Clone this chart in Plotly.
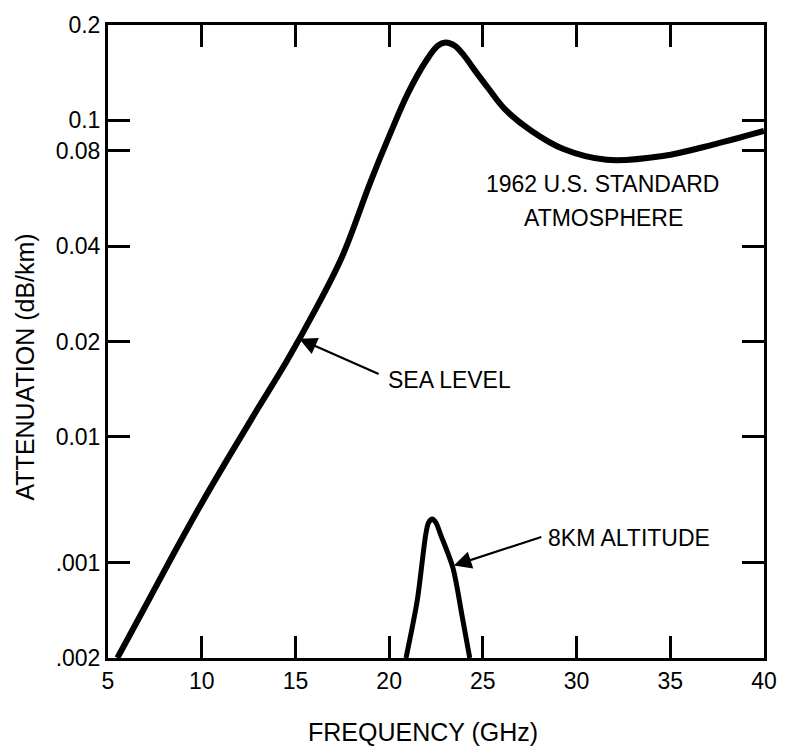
import math
import plotly.graph_objects as go

# Sea-level curve (frequency GHz, attenuation dB/km)
sea_freq = [5.5, 7.0, 8.5, 10.0, 11.5, 13.0, 14.5, 16.0, 17.5, 19.0, 20.0, 21.0,
            22.0, 22.6, 23.0, 23.5, 24.0, 24.6, 25.3, 26.2, 27.6, 29.3, 31.6, 34.6,
            37.4, 40.0]
sea_att = [0.0020, 0.00292, 0.00427, 0.00617, 0.00875, 0.0123, 0.0172, 0.0248, 0.0372,
           0.0638, 0.0891, 0.1216, 0.155, 0.172, 0.176, 0.172, 0.160, 0.143, 0.126,
           0.108, 0.0925, 0.0811, 0.0750, 0.0771, 0.0841, 0.0925]

# 8 km altitude curve
alt_freq = [20.9, 21.5, 21.95, 22.1, 22.3, 22.5, 22.75, 23.4, 23.9, 24.3]
alt_att = [0.002, 0.00304, 0.0049, 0.00535, 0.0055, 0.00535, 0.0049, 0.00386, 0.0027, 0.002]

x_ticks = [5, 10, 15, 20, 25, 30, 35, 40]
y_tickvals = [0.002, 0.004, 0.01, 0.02, 0.04, 0.08, 0.1, 0.2]
y_ticktext = [".002", ".001", "0.01", "0.02", "0.04", "0.08", "0.1", "0.2"]

FONT = "Liberation Sans, Arial, Helvetica, sans-serif"

fig = go.Figure()
fig.add_trace(go.Scatter(x=sea_freq, y=sea_att, mode="lines",
                         line=dict(color="black", width=6, shape="spline", smoothing=1.0),
                         showlegend=False, hoverinfo="skip"))
fig.add_trace(go.Scatter(x=alt_freq, y=alt_att, mode="lines",
                         line=dict(color="black", width=5, shape="spline", smoothing=0.8),
                         showlegend=False, hoverinfo="skip"))

L = math.log10
annotations = [
    # arrows
    dict(x=15.2, y=L(0.0204), xref="x", yref="y", text="", showarrow=True,
         ax=81, ay=36, arrowhead=2, arrowsize=1.6, arrowwidth=2.2, arrowcolor="black"),
    dict(x=23.45, y=L(0.00392), xref="x", yref="y", text="", showarrow=True,
         ax=89, ay=-29, arrowhead=2, arrowsize=1.6, arrowwidth=2.2, arrowcolor="black"),
    # labels
    dict(x=19.84, y=L(0.0151), xref="x", yref="y", text="SEA LEVEL", showarrow=False,
         xanchor="left", yanchor="middle", font=dict(size=23, color="black", family=FONT)),
    dict(x=28.37, y=L(0.00479), xref="x", yref="y", text="8KM ALTITUDE", showarrow=False,
         xanchor="left", yanchor="middle", font=dict(size=23, color="black", family=FONT)),
    dict(x=31.37, y=L(0.0629), xref="x", yref="y", text="1962 U.S. STANDARD", showarrow=False,
         xanchor="center", yanchor="middle", font=dict(size=23, color="black", family=FONT)),
    dict(x=31.42, y=L(0.049), xref="x", yref="y", text="ATMOSPHERE", showarrow=False,
         xanchor="center", yanchor="middle", font=dict(size=23, color="black", family=FONT)),
    # axis titles
    dict(x=0.480, y=-0.1176, xref="paper", yref="paper", text="FREQUENCY (GHz)",
         showarrow=False, xanchor="center", yanchor="middle",
         font=dict(size=25, color="black", family=FONT)),
    dict(x=-0.1265, y=0.459, xref="paper", yref="paper", text="ATTENUATION (dB/km)",
         showarrow=False, xanchor="center", yanchor="middle", textangle=-90,
         font=dict(size=25, color="black", family=FONT)),
]

fig.update_layout(
    width=789, height=749,
    margin=dict(l=108, r=17, t=20, b=91),
    paper_bgcolor="white", plot_bgcolor="white",
    font=dict(family=FONT, color="black", size=21),
    annotations=annotations,
    xaxis=dict(range=[5, 40], tickvals=x_ticks, ticktext=[str(v) for v in x_ticks],
               ticks="inside", ticklen=22, tickwidth=2.5, tickcolor="black",
               showline=True, linewidth=3, linecolor="black", mirror="ticks",
               showgrid=False, zeroline=False, tickfont=dict(size=23)),
    yaxis=dict(type="log", range=[L(0.002), L(0.2)], tickvals=y_tickvals, ticktext=y_ticktext,
               ticks="inside", ticklen=22, tickwidth=2.5, tickcolor="black",
               showline=True, linewidth=3, linecolor="black", mirror="ticks",
               showgrid=False, zeroline=False, tickfont=dict(size=23)),
)

fig.write_html("out.html")
